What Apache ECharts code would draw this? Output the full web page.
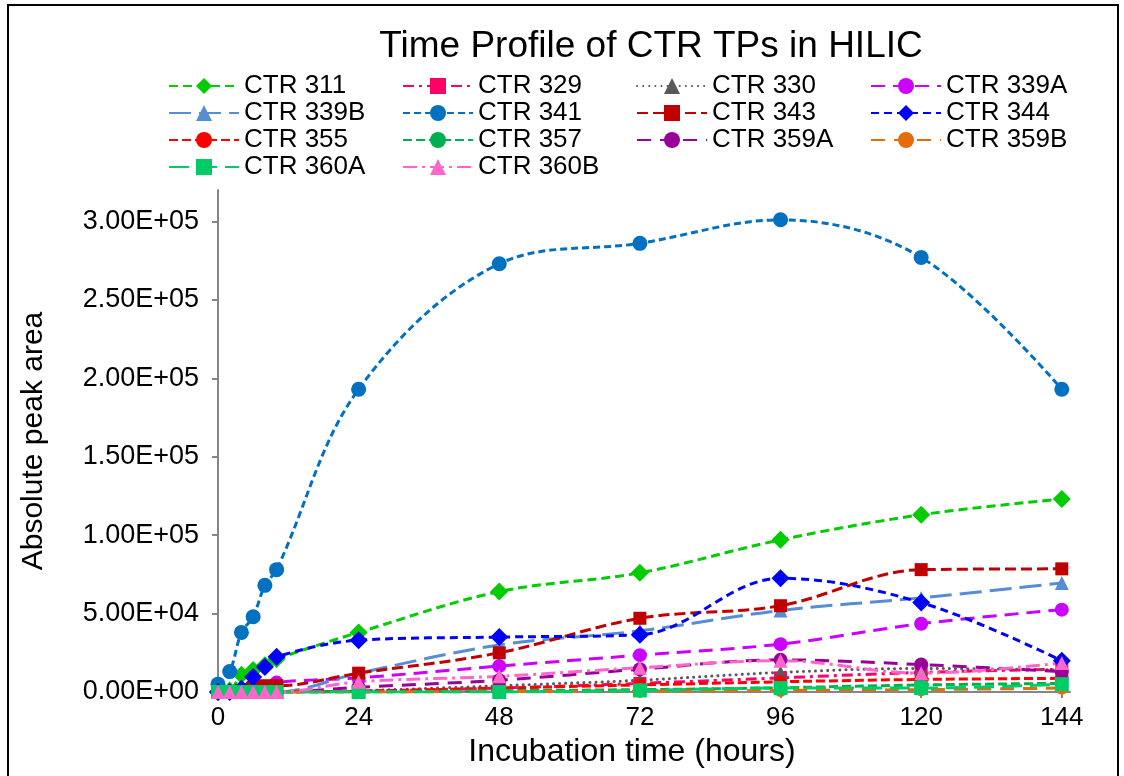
<!DOCTYPE html>
<html>
<head>
<meta charset="utf-8">
<script src="https://cdn.jsdelivr.net/npm/echarts@6/dist/echarts.min.js"></script>
<style>html,body{margin:0;padding:0;background:#fff}#c{width:1124px;height:776px}</style>
</head>
<body>
<div id="c"></div>
<script>
// ---- data (hours, absolute peak area) ----
const hours = [0, 2, 4, 6, 8, 10, 24, 48, 72, 96, 120, 144];
const xTicks = [0, 24, 48, 72, 96, 120, 144];
const yTicks = [0, 50000, 100000, 150000, 200000, 250000, 300000];
const names = ['CTR 311','CTR 329','CTR 330','CTR 339A','CTR 339B','CTR 341','CTR 343','CTR 344','CTR 355','CTR 357','CTR 359A','CTR 359B','CTR 360A','CTR 360B'];
const ctr311  = [0, 1000, 11000, 14000, 17000, 21000, 38000, 64000, 76000, 97000, 113000, 123000];
const ctr329  = [0, 0, 0, 0, 0, 0, 500, 2500, 5500, 9000, 12500, 14500];
const ctr330  = [0, 0, 0, 0, 0, 0, 800, 4000, 7500, 12500, 15000, 14000];
const ctr339A = [0, 0, 0, 0, 2000, 6000, 9000, 16500, 23500, 30500, 43500, 52500];
const ctr339B = [0, 0, 0, 0, 0, 0, 12000, 30000, 39000, 52000, 60000, 69500];
const ctr341  = [5000, 13000, 38000, 48000, 68000, 78000, 193000, 273000, 286000, 301000, 277000, 193000];
const ctr343  = [0, 0, 1000, 3000, 4000, 4000, 12000, 25000, 47000, 55000, 78000, 78500];
const ctr344  = [0, 0, 2000, 9500, 16000, 22500, 33000, 35000, 36500, 72500, 57000, 20000];
const ctr355  = [0, 0, 0, 0, 0, 0, 500, 2500, 4500, 6500, 8000, 8700];
const ctr357  = [0, 0, 0, 0, 0, 0, 0, 800, 1500, 2700, 4500, 5500];
const ctr359A = [0, 0, 0, 0, 0, 0, 3000, 7500, 14500, 20500, 17500, 13000];
const ctr359B = [0, 0, 0, 0, 0, 0, 0, 300, 500, 1000, 1500, 2500];
const ctr360A = [0, 0, 0, 0, 0, 0, 0, 0, 1000, 2500, 2500, 5000];
const ctr360B = [0, 0, 0, 0, 0, 0, 6500, 10000, 15500, 20000, 12000, 18500];
const values = [ctr311, ctr329, ctr330, ctr339A, ctr339B, ctr341, ctr343, ctr344, ctr355, ctr357, ctr359A, ctr359B, ctr360A, ctr360B];

// ---- styles ----
const styles = [
  {color:'#00CC00', symbol:'diamond',  size:18, dash:[9,5]},
  {color:'#FF0066', symbol:'rect',     size:13, dash:[11,5,3,5]},
  {color:'#595959', symbol:'triangle', size:14, dash:[0.1,6], cap:'round'},
  {color:'#CC00FF', symbol:'circle',   size:14, dash:[14,8]},
  {color:'#558ED5', symbol:'triangle', size:14, dash:[22,8]},
  {color:'#0070C0', symbol:'circle',   size:15, dash:[7,4]},
  {color:'#C00000', symbol:'rect',     size:13, dash:[11,5]},
  {color:'#0000FF', symbol:'diamond',  size:18, dash:[8,5]},
  {color:'#FF0000', symbol:'circle',   size:13, dash:[9,4]},
  {color:'#00B050', symbol:'circle',   size:13, dash:[9,4]},
  {color:'#990099', symbol:'circle',   size:14, dash:[14,9]},
  {color:'#E46C0A', symbol:'circle',   size:13, dash:[14,9]},
  {color:'#00CC66', symbol:'rect',     size:14, dash:[20,8]},
  {color:'#FF66CC', symbol:'triangle', size:14, dash:[14,5,3,5]}
];

function fmtE(v) {
  if (v === 0) return '0.00E+00';
  const e = Math.floor(Math.log10(Math.abs(v)));
  const m = v / Math.pow(10, e);
  return m.toFixed(2) + 'E' + (e >= 0 ? '+' : '-') + String(Math.abs(e)).padStart(2, '0');
}

const FONT = 'Liberation Sans, Arial, sans-serif';
const series = names.map((n, i) => ({
  name: n,
  type: 'line',
  smooth: 0.35,
  data: hours.map((h, j) => [h, values[i][j]]),
  symbol: styles[i].symbol,
  symbolSize: styles[i].size,
  itemStyle: {color: styles[i].color},
  lineStyle: {color: styles[i].color, width: 3, type: styles[i].dash, cap: styles[i].cap || 'butt'},
  emphasis: {disabled: true},
  animation: false
}));

const chart = echarts.init(document.getElementById('c'), null, {renderer: 'canvas'});
chart.setOption({
  backgroundColor: '#fff',
  animation: false,
  title: {
    text: 'Time Profile of CTR TPs in HILIC',
    left: 651, top: 28, textAlign: 'center', padding: 0,
    textStyle: {fontFamily: FONT, fontSize: 37, fontWeight: 'normal', color: '#000'}
  },
  legend: {
    data: names,
    left: 168, top: 73, width: 950, padding: 0,
    itemWidth: 70, itemHeight: 20, itemGap: 1,
    textStyle: {fontFamily: FONT, fontSize: 26, color: '#000', width: 157, lineHeight: 20},
    selectedMode: false
  },
  grid: {left: 218, right: 54, top: 190, bottom: 84, containLabel: false},
  xAxis: {
    type: 'value', min: 0, max: 145.4,
    name: 'Incubation time (hours)', nameLocation: 'middle', nameGap: 42,
    nameTextStyle: {fontFamily: FONT, fontSize: 32, color: '#000', padding: [0, 24, 0, 0]},
    axisLine: {lineStyle: {color: '#868686', width: 2}},
    axisTick: {show: true, length: 6, lineStyle: {color: '#868686', width: 2}, customValues: xTicks},
    axisLabel: {fontFamily: FONT, fontSize: 26, color: '#000', margin: 13, customValues: xTicks},
    splitLine: {show: false}
  },
  yAxis: {
    type: 'value', min: 0, max: 320000,
    name: 'Absolute peak area', nameLocation: 'middle', nameGap: 169, nameRotate: 90,
    nameTextStyle: {fontFamily: FONT, fontSize: 30, color: '#000'},
    axisLine: {show: true, lineStyle: {color: '#868686', width: 2}},
    axisTick: {show: true, length: 6, lineStyle: {color: '#868686', width: 2}, customValues: yTicks},
    axisLabel: {fontFamily: FONT, fontSize: 27, color: '#000', margin: 19, formatter: fmtE, customValues: yTicks},
    splitLine: {show: false}
  },
  graphic: [{
    type: 'rect', shape: {x: 8, y: 5, width: 1110, height: 800},
    style: {fill: 'none', stroke: '#000', lineWidth: 2}, silent: true, z: 100
  }],
  series: series
});
</script>
</body>
</html>
